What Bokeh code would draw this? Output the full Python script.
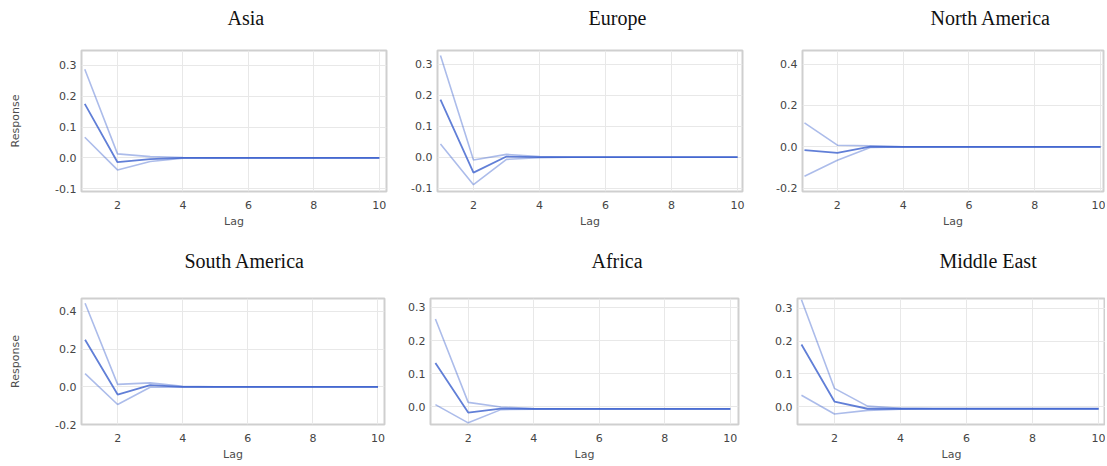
from bokeh.plotting import figure
from bokeh.layouts import column, row
from bokeh.models import FixedTicker, PrintfTickFormatter, Title, Range1d
from bokeh.embed import file_html
from bokeh.resources import INLINE

lags = [1, 2, 3, 4, 5, 6, 7, 8, 9, 10]

titles = ["Asia", "Europe", "North America", "South America", "Africa", "Middle East"]

asia_irf = [0.175, -0.014, -0.004, 0.0, 0.0, 0.0, 0.0, 0.0, 0.0, 0.0]
asia_lo = [0.067, -0.039, -0.012, -0.001, 0.0, 0.0, 0.0, 0.0, 0.0, 0.0]
asia_hi = [0.287, 0.013, 0.004, 0.001, 0.0, 0.0, 0.0, 0.0, 0.0, 0.0]

europe_irf = [0.186, -0.050, 0.002, 0.0, 0.0, 0.0, 0.0, 0.0, 0.0, 0.0]
europe_lo = [0.043, -0.089, -0.007, -0.002, 0.0, 0.0, 0.0, 0.0, 0.0, 0.0]
europe_hi = [0.329, -0.009, 0.009, 0.002, 0.0, 0.0, 0.0, 0.0, 0.0, 0.0]

namerica_irf = [-0.016, -0.029, 0.001, 0.0, 0.0, 0.0, 0.0, 0.0, 0.0, 0.0]
namerica_lo = [-0.142, -0.065, -0.003, 0.0, 0.0, 0.0, 0.0, 0.0, 0.0, 0.0]
namerica_hi = [0.116, 0.008, 0.005, 0.0, 0.0, 0.0, 0.0, 0.0, 0.0, 0.0]

samerica_irf = [0.250, -0.041, 0.009, 0.0, 0.0, 0.0, 0.0, 0.0, 0.0, 0.0]
samerica_lo = [0.070, -0.094, -0.002, -0.002, 0.0, 0.0, 0.0, 0.0, 0.0, 0.0]
samerica_hi = [0.444, 0.013, 0.021, 0.003, 0.0, 0.0, 0.0, 0.0, 0.0, 0.0]

africa_irf = [0.132, -0.018, -0.006, -0.007, -0.007, -0.007, -0.007, -0.007, -0.007, -0.007]
africa_lo = [0.006, -0.049, -0.009, -0.008, -0.007, -0.007, -0.007, -0.007, -0.007, -0.007]
africa_hi = [0.265, 0.013, -0.001, -0.006, -0.007, -0.007, -0.007, -0.007, -0.007, -0.007]

mideast_irf = [0.190, 0.016, -0.006, -0.006, -0.006, -0.006, -0.006, -0.006, -0.006, -0.006]
mideast_lo = [0.035, -0.022, -0.011, -0.007, -0.006, -0.006, -0.006, -0.006, -0.006, -0.006]
mideast_hi = [0.326, 0.056, 0.002, -0.005, -0.006, -0.006, -0.006, -0.006, -0.006, -0.006]

x_ticks = [2, 4, 6, 8, 10]
y_ticks_a = [-0.1, 0.0, 0.1, 0.2, 0.3]
y_ticks_b = [-0.2, 0.0, 0.2, 0.4]
y_ticks_c = [0.0, 0.1, 0.2, 0.3]

series = [
    (asia_irf, asia_lo, asia_hi),
    (europe_irf, europe_lo, europe_hi),
    (namerica_irf, namerica_lo, namerica_hi),
    (samerica_irf, samerica_lo, samerica_hi),
    (africa_irf, africa_lo, africa_hi),
    (mideast_irf, mideast_lo, mideast_hi),
]
yticks = [y_ticks_a, y_ticks_a, y_ticks_b, y_ticks_b, y_ticks_c, y_ticks_c]

# layout settings (pixels) per panel
#          width height bl  br  bt  bb
geom = [
    (400, 236, 81, 14, 50, 45),
    (370, 236, 37, 28, 50, 45),
    (335, 236, 32, 2, 50, 45),
    (400, 228, 81, 16, 62, 40),
    (370, 228, 30, 32, 62, 40),
    (335, 228, 27, 0, 62, 40),
]
xranges = [(0.9, 10.22), (0.91, 10.15), (0.94, 10.09), (0.89, 10.2), (0.85, 10.25), (0.88, 10.21)]
yranges = [(-0.109, 0.348), (-0.111, 0.345), (-0.216, 0.466), (-0.2, 0.469), (-0.054, 0.327), (-0.054, 0.33)]
title_off = [146, 151, 128, 103, 161, 142]
title_lh = [0.9, 0.9, 0.9, 1.1, 1.1, 1.1]

LINE = "#3a5fcd"
TICK_FONT = "DejaVu Sans"

figs = []
for i in range(6):
    w, h, bl, br, bt, bb = geom[i]
    p = figure(width=w, height=h, output_backend="svg", toolbar_location=None, title=None,
               min_border_left=bl, min_border_right=br, min_border_top=bt, min_border_bottom=bb,
               x_range=Range1d(*xranges[i]), y_range=Range1d(*yranges[i]))
    irf, lo, hi = series[i]
    p.line(lags, lo, line_color=LINE, line_alpha=0.42, line_width=1.6)
    p.line(lags, hi, line_color=LINE, line_alpha=0.42, line_width=1.6)
    p.line(lags, irf, line_color=LINE, line_alpha=0.8, line_width=1.8)

    # trailing blank line lifts the title above the frame
    p.add_layout(Title(text=titles[i] + "\n\u00a0", align="left", offset=title_off[i],
                       text_font="Liberation Serif", text_font_size="20px",
                       text_line_height=title_lh[i],
                       text_font_style="normal", text_color="#111111", standoff=4), "above")

    p.outline_line_color = "#cfcfcf"
    p.outline_line_width = 2
    p.background_fill_color = "white"
    p.border_fill_color = "white"
    p.grid.grid_line_color = "#e8e8e8"
    p.grid.grid_line_width = 1

    p.xaxis.ticker = FixedTicker(ticks=x_ticks)
    p.yaxis.ticker = FixedTicker(ticks=yticks[i])
    p.yaxis.formatter = PrintfTickFormatter(format="%.1f")
    for ax in (p.xaxis[0], p.yaxis[0]):
        ax.axis_line_color = None
        ax.major_tick_line_color = None
        ax.minor_tick_line_color = None
        ax.major_tick_out = 0
        ax.minor_tick_out = 0
        ax.major_label_text_font = TICK_FONT
        ax.major_label_text_font_size = "11px"
        ax.major_label_text_color = "#444444"
        ax.axis_label_text_font = TICK_FONT
        ax.axis_label_text_font_size = "11px"
        ax.axis_label_text_font_style = "normal"
        ax.axis_label_text_color = "#4d4d4d"
    p.xaxis.axis_label = "Lag"
    p.xaxis.major_label_standoff = 9
    p.xaxis.axis_label_standoff = 3
    p.yaxis.major_label_standoff = 5
    if i in (0, 3):
        p.yaxis.axis_label = "Response"
        p.yaxis.axis_label_standoff = 30
    figs.append(p)

layout = column(row(figs[0], figs[1], figs[2], spacing=0), row(figs[3], figs[4], figs[5], spacing=0), spacing=0)

open("out.html", "w").write(file_html(layout, INLINE))
